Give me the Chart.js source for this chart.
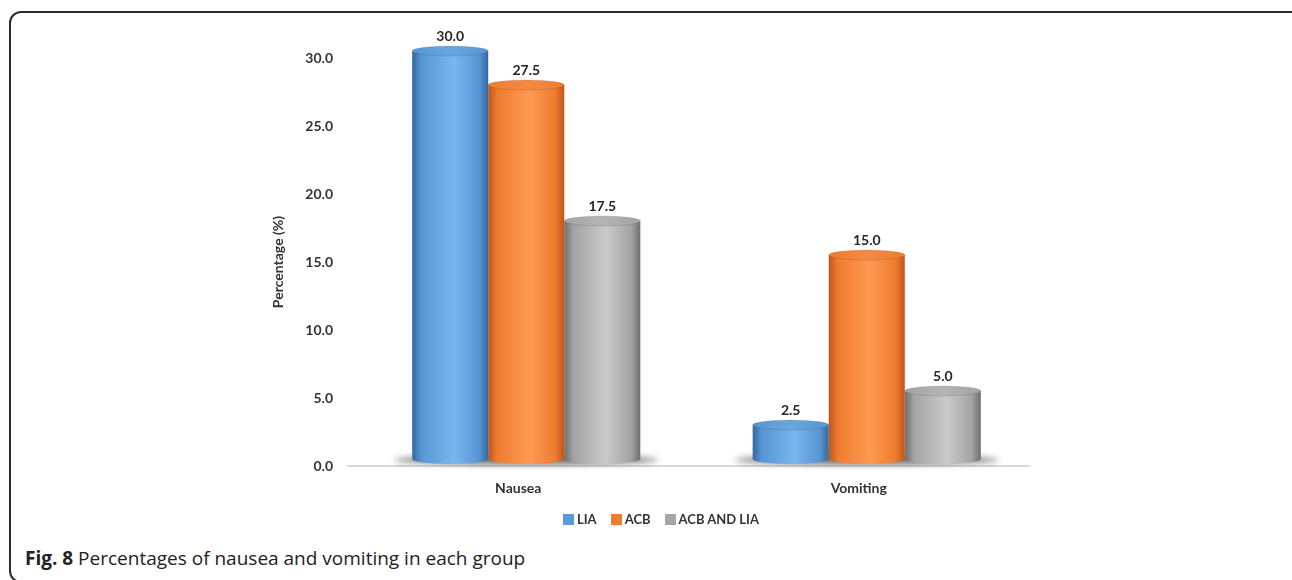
<!DOCTYPE html>
<html>
<head>
<meta charset="utf-8">
<script src="https://cdn.jsdelivr.net/npm/chart.js@4.4.1/dist/chart.umd.min.js"></script>
<style>
  html, body { margin: 0; padding: 0; background: #fff; overflow: hidden; }
  body { width: 1292px; height: 580px; position: relative; }
  #frame {
    position: absolute; left: 9px; top: 11px;
    width: 1300px; height: 572px;
    border: 2px solid #2b2b2b; border-radius: 12px;
    box-sizing: border-box;
  }
  #wrap { position: absolute; left: 0; top: 0; width: 1292px; height: 540px; }
  #legend {
    position: absolute; top: 511px; left: 563px;
    display: flex; align-items: center;
    font: bold 13px Lato, sans-serif; color: #333;
  }
  #legend span.item { display: flex; align-items: center; margin-right: 14px; }
  #legend i { display: inline-block; width: 11px; height: 11px; margin-right: 3px; }
  #caption {
    position: absolute; left: 25px; top: 545px;
    font: 19px "Open Sans", sans-serif; color: #222; white-space: nowrap;
  }
  #caption b { font-weight: 700; }
</style>
</head>
<body>
<div id="frame"></div>
<div id="wrap"><canvas id="chart" width="1292" height="540"></canvas></div>
<div id="legend"></div>
<div id="caption"><b>Fig. 8</b> Percentages of nausea and vomiting in each group</div>

<script>
// datos
const categories = ['Nausea', 'Vomiting'];
const liaValues = [30.0, 2.5];
const acbValues = [27.5, 15.0];
const acbLiaValues = [17.5, 5.0];
const yTicks = [0, 5, 10, 15, 20, 25, 30];

// colores de cada cilindro: borde oscuro, medio, brillo
const palettes = [
  { base: '#5B9BD5', dark: '#35679e', mid: '#5796d4', light: '#78b6ee', cap: '#6aa6e0' },
  { base: '#ED7D31', dark: '#bf561b', mid: '#ee7c30', light: '#ff9a52', cap: '#f58a45' },
  { base: '#A5A5A5', dark: '#6e6e6e', mid: '#a3a3a3', light: '#cacaca', cap: '#b4b4b4' }
];

// desplazamiento de profundidad 3D y alto de la tapa elíptica
const DEPTH_X = 8, DEPTH_Y = 7, CAP = 5;

function bodyGradient(ctx, left, right, p) {
  const g = ctx.createLinearGradient(left, 0, right, 0);
  g.addColorStop(0, p.dark);
  g.addColorStop(0.12, p.mid);
  g.addColorStop(0.55, p.light);
  g.addColorStop(0.88, p.mid);
  g.addColorStop(1, p.dark);
  return g;
}

const cylinderPlugin = {
  id: 'cylinders',
  beforeDatasetsDraw(chart) {
    // sombra bajo cada grupo
    const ctx = chart.ctx;
    const metas = chart.data.datasets.map((_, i) => chart.getDatasetMeta(i));
    categories.forEach((_, ci) => {
      const first = metas[0].data[ci], last = metas[metas.length - 1].data[ci];
      const left = first.x - first.width / 2 + DEPTH_X;
      const right = last.x + last.width / 2 + DEPTH_X;
      const y = first.base - DEPTH_Y + 1;
      ctx.save();
      ctx.filter = 'blur(3px)';
      ctx.fillStyle = 'rgba(30,30,30,0.7)';
      ctx.beginPath();
      ctx.ellipse((left + right) / 2, y, (right - left) / 2 + 18, 4, 0, 0, Math.PI * 2);
      ctx.fill();
      ctx.restore();
    });
  },
  beforeDatasetDraw(chart, args) {
    const ctx = chart.ctx;
    const p = palettes[args.index];
    args.meta.data.forEach(bar => {
      const cx = bar.x + DEPTH_X;
      const w = bar.width;
      const left = cx - w / 2, right = cx + w / 2;
      const top = bar.y - DEPTH_Y;
      const bottom = bar.base - DEPTH_Y;
      ctx.save();
      ctx.fillStyle = bodyGradient(ctx, left, right, p);
      ctx.beginPath();
      ctx.moveTo(left, top);
      ctx.lineTo(left, bottom);
      ctx.ellipse(cx, bottom, w / 2, CAP, 0, Math.PI, 0, true);
      ctx.lineTo(right, top);
      ctx.closePath();
      ctx.fill();
      // tapa superior
      const cg = ctx.createLinearGradient(left, 0, right, 0);
      cg.addColorStop(0, p.mid);
      cg.addColorStop(0.5, p.cap);
      cg.addColorStop(1, p.mid);
      ctx.fillStyle = cg;
      ctx.strokeStyle = 'rgba(0,0,0,0.12)';
      ctx.lineWidth = 1;
      ctx.beginPath();
      ctx.ellipse(cx, top, w / 2, CAP, 0, 0, Math.PI * 2);
      ctx.fill();
      ctx.stroke();
      ctx.restore();
    });
    return false;
  },
  afterDatasetsDraw(chart) {
    // etiquetas de valor
    const ctx = chart.ctx;
    ctx.save();
    ctx.font = 'bold 14px Lato, sans-serif';
    ctx.fillStyle = '#262626';
    ctx.textAlign = 'center';
    ctx.textBaseline = 'middle';
    chart.data.datasets.forEach((ds, i) => {
      chart.getDatasetMeta(i).data.forEach((bar, j) => {
        ctx.fillText(ds.data[j].toFixed(1), bar.x + DEPTH_X, bar.y - DEPTH_Y - CAP - 10);
      });
    });
    ctx.restore();
  }
};

const chart = new Chart(document.getElementById('chart'), {
  type: 'bar',
  data: {
    labels: categories,
    datasets: [
      { label: 'LIA', data: liaValues, backgroundColor: palettes[0].base },
      { label: 'ACB', data: acbValues, backgroundColor: palettes[1].base },
      { label: 'ACB AND LIA', data: acbLiaValues, backgroundColor: palettes[2].base }
    ]
  },
  options: {
    responsive: false,
    animation: false,
    layout: { padding: { left: 270, right: 263, top: 58, bottom: 24 } },
    datasets: { bar: { categoryPercentage: 0.67, barPercentage: 1.0 } },
    plugins: {
      legend: { display: false },
      tooltip: { enabled: false }
    },
    scales: {
      x: {
        grid: { display: false },
        border: { display: true, color: '#d9d9d9', width: 2 },
        ticks: { color: '#333', font: { family: 'Lato', weight: 'bold', size: 14 }, padding: 6 },
        afterFit(scale) { scale.height = 50; }
      },
      y: {
        min: 0,
        max: 30,
        afterBuildTicks(scale) { scale.ticks = yTicks.map(v => ({ value: v })); },
        grid: { display: false, drawTicks: false },
        border: { display: false },
        ticks: {
          color: '#333',
          font: { family: 'Lato', weight: 'bold', size: 14 },
          padding: 15,
          callback: v => v.toFixed(1)
        },
        title: {
          display: true,
          text: 'Percentage (%)',
          color: '#333',
          font: { family: 'Lato', weight: 'bold', size: 14 },
          padding: 0
        },
        afterFit(scale) { scale.width = 78; }
      }
    }
  },
  plugins: [cylinderPlugin]
});

// leyenda en HTML a partir de los datasets
const legendEl = document.getElementById('legend');
chart.data.datasets.forEach(ds => {
  const item = document.createElement('span');
  item.className = 'item';
  const box = document.createElement('i');
  box.style.background = ds.backgroundColor;
  item.appendChild(box);
  item.appendChild(document.createTextNode(ds.label));
  legendEl.appendChild(item);
});
</script>
</body>
</html>
